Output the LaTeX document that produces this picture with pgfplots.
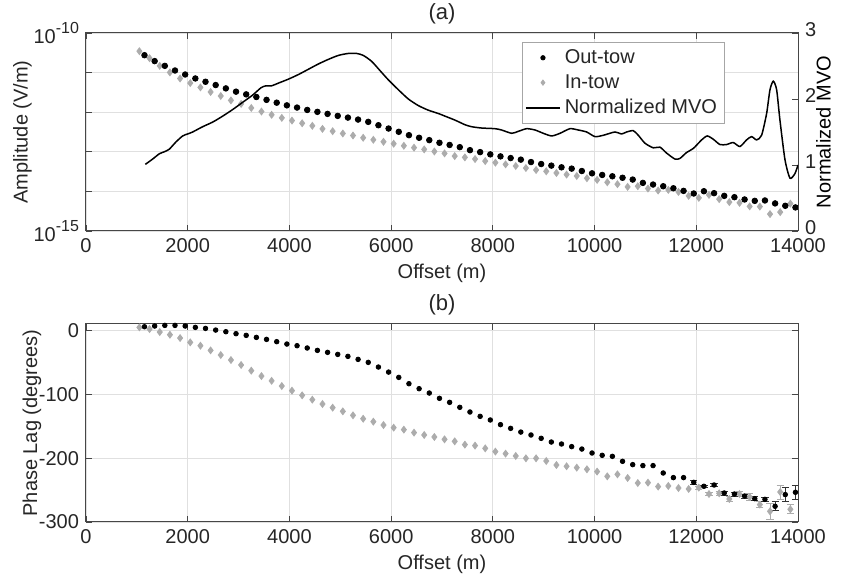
\documentclass[border=0pt]{standalone}
\usepackage{fontspec}
\setmainfont{Liberation Sans}
\usepackage{pgfplots}
\usepackage{pgfplotstable}
\pgfplotsset{compat=1.18}

\definecolor{intow}{RGB}{172,172,172}
\definecolor{axgray}{RGB}{70,70,70}
\definecolor{txt}{RGB}{38,38,38}

% ---------- data: amplitude (top) ----------
\pgfplotstableread{
x y
1150 2.75e-11
1350 1.95e-11
1550 1.48e-11
1750 1.13e-11
1950 8.95e-12
2150 7.11e-12
2350 5.87e-12
2550 4.85e-12
2750 3.99e-12
2950 3.30e-12
3150 2.82e-12
3350 2.42e-12
3550 2.05e-12
3750 1.74e-12
3950 1.49e-12
4150 1.31e-12
4350 1.14e-12
4550 1.02e-12
4750 9.06e-13
4950 8.07e-13
5150 7.31e-13
5350 6.52e-13
5550 5.70e-13
5750 4.69e-13
5950 3.87e-13
6150 3.20e-13
6350 2.63e-13
6550 2.26e-13
6750 1.97e-13
6950 1.69e-13
7150 1.49e-13
7350 1.31e-13
7550 1.10e-13
7750 9.82e-14
7950 8.61e-14
8150 7.66e-14
8350 6.95e-14
8550 6.34e-14
8750 5.51e-14
8950 4.91e-14
9150 4.48e-14
9350 4.06e-14
9550 3.76e-14
9750 3.27e-14
9950 2.86e-14
10150 2.60e-14
10350 2.41e-14
10550 2.21e-14
10750 1.99e-14
10950 1.64e-14
11150 1.49e-14
11350 1.35e-14
11550 1.20e-14
11750 1.03e-14
11950 8.85e-15
12150 1.01e-14
12350 9.02e-15
12550 7.71e-15
12750 7.14e-15
12950 6.25e-15
13150 5.77e-15
13350 5.90e-15
13550 4.97e-15
13750 4.33e-15
13950 3.94e-15
}\ampout

\pgfplotstableread{
x y
1050 3.47e-11
1250 2.31e-11
1450 1.48e-11
1650 1.01e-11
1850 7.11e-12
2050 5.44e-12
2250 4.23e-12
2450 3.24e-12
2650 2.57e-12
2850 1.99e-12
3050 1.62e-12
3250 1.28e-12
3450 1.04e-12
3650 8.61e-13
3850 7.19e-13
4050 6.15e-13
4250 5.26e-13
4450 4.53e-13
4650 3.80e-13
4850 3.31e-13
5050 2.90e-13
5250 2.58e-13
5450 2.26e-13
5650 2.01e-13
5850 1.79e-13
6050 1.60e-13
6250 1.42e-13
6450 1.27e-13
6650 1.15e-13
6850 1.02e-13
7050 9.12e-14
7250 7.80e-14
7450 7.23e-14
7650 6.56e-14
7850 5.83e-14
8050 5.32e-14
8250 4.82e-14
8450 4.38e-14
8650 3.89e-14
8850 3.47e-14
9050 3.22e-14
9250 2.92e-14
9450 2.66e-14
9650 2.45e-14
9850 2.15e-14
10050 1.95e-14
10250 1.70e-14
10450 1.52e-14
10650 1.30e-14
10850 1.35e-14
11050 1.18e-14
11250 1.05e-14
11450 1.09e-14
11650 9.70e-15
11850 7.71e-15
12050 6.87e-15
12250 8.17e-15
12450 6.37e-15
12650 5.36e-15
12850 5.14e-15
13050 4.18e-15
13250 4.13e-15
13450 2.67e-15
13650 3.00e-15
13850 4.91e-15
}\ampin

\pgfplotstableread{
x y
1167 1.01
1311 1.09
1442 1.17
1540 1.20
1638 1.24
1770 1.35
1901 1.44
1999 1.47
2097 1.50
2294 1.58
2491 1.65
2687 1.74
2884 1.84
3081 1.95
3278 2.06
3441 2.17
3539 2.20
3651 2.20
3782 2.24
3978 2.30
4175 2.37
4372 2.45
4568 2.53
4765 2.60
4962 2.66
5158 2.69
5322 2.69
5453 2.66
5617 2.57
5781 2.43
5945 2.29
6142 2.14
6338 2.00
6535 1.90
6732 1.83
6929 1.78
7059 1.74
7255 1.68
7452 1.61
7583 1.58
7780 1.56
8042 1.55
8173 1.53
8370 1.48
8501 1.51
8665 1.55
8829 1.53
8992 1.48
9156 1.44
9320 1.48
9516 1.55
9680 1.53
9844 1.50
10008 1.43
10171 1.45
10401 1.50
10530 1.47
10630 1.50
10761 1.52
10860 1.45
10991 1.33
11155 1.26
11286 1.27
11417 1.18
11581 1.09
11679 1.10
11810 1.19
11941 1.25
12105 1.38
12216 1.44
12334 1.39
12465 1.31
12596 1.31
12727 1.34
12858 1.28
12989 1.38
13088 1.43
13186 1.38
13284 1.45
13383 1.78
13449 2.14
13514 2.27
13580 2.14
13645 1.68
13744 1.08
13842 0.80
13940 0.87
14000 1.00
}\mvo

% ---------- data: phase (bottom) ----------
\pgfplotstableread{
x y
1150 5.7
1350 6.8
1550 7.8
1750 7.8
1950 6.8
2150 4.7
2350 3.1
2550 0.5
2750 -2.1
2950 -5.2
3150 -7.8
3350 -11.0
3550 -14.1
3750 -17.7
3950 -21.4
4150 -24.0
4350 -27.6
4550 -31.3
4750 -34.4
4950 -37.6
5150 -40.7
5350 -45.4
5550 -50.1
5750 -57.4
5950 -65.3
6150 -73.6
6350 -83.5
6550 -91.3
6750 -98.1
6950 -106.4
7150 -112.7
7350 -120.5
7550 -127.8
7750 -134.6
7950 -140.3
8150 -147.6
8350 -153.4
8550 -159.2
8750 -163.8
8950 -169.0
9150 -174.8
9350 -177.9
9550 -182.0
9750 -185.8
9950 -192.0
10150 -195.6
10350 -197.2
10550 -205.0
10750 -210.2
10950 -211.7
11150 -211.7
11350 -223.3
11550 -230.5
11750 -230.5
}\phout

\pgfplotstableread{
x y e
11950 -237.9 3
12150 -244.1 2
12350 -242.1 2
12550 -254.6 3
12750 -256.2 3
12950 -259.3 3
13150 -263.5 3
13350 -264.6 3
13550 -275.4 7
13750 -257.1 11
13950 -253.5 11
}\phoutE

\pgfplotstableread{
x y
1050 4.7
1250 2.1
1450 -2.6
1650 -6.8
1850 -12.0
2050 -18.8
2250 -24.0
2450 -31.3
2650 -38.6
2850 -46.4
3050 -54.2
3250 -63.1
3450 -71.5
3650 -79.0
3850 -87.1
4050 -94.4
4250 -101.7
4450 -108.5
4650 -115.3
4850 -121.0
5050 -126.8
5250 -133.0
5450 -138.3
5650 -142.9
5850 -148.2
6050 -152.3
6250 -155.4
6450 -160.1
6650 -163.8
6850 -166.9
7050 -170.6
7250 -173.7
7450 -178.9
7650 -180.4
7850 -184.7
8050 -189.8
8250 -193.0
8450 -196.6
8650 -200.3
8850 -200.3
9050 -204.5
9250 -210.8
9450 -212.8
9650 -214.9
9850 -217.5
10050 -221.1
10250 -228.5
10450 -225.4
10650 -231.1
10850 -239.0
11050 -238.4
11250 -244.6
11450 -243.6
11650 -246.8
11850 -248.3
}\phin

\pgfplotstableread{
x y e
12050 -246.2 2
12250 -256.2 2
12450 -255.1 3
12650 -264.0 4
12850 -256.2 4
13050 -260.9 5
13250 -272.8 5
13450 -283.3 12
13650 -253.0 11
13850 -280.1 7
}\phinE

\newcommand{\expo}[1]{10\raisebox{0.9ex}{\fontsize{8}{9}\selectfont #1}}

\pgfplotsset{
  base/.style={
    scale only axis, width=356pt, height=99pt,
    xmin=0, xmax=14000,
    xtick={0,2000,4000,6000,8000,10000,12000,14000},
    /pgf/number format/assume math mode=true,
    /pgf/number format/1000 sep={},
    scaled x ticks=false,
    tick label style={font=\fontsize{10}{12}\selectfont, text=txt},
    label style={font=\fontsize{10}{12}\selectfont, text=txt},
    title style={font=\fontsize{11}{13}\selectfont, text=txt, yshift=-5pt},
    axis line style={axgray, line width=0.5pt},
    tick style={axgray, line width=0.4pt},
    tick align=inside, major tick length=3pt,
    xlabel style={yshift=1pt},
  },
  gridded/.style={grid=major, major grid style={black!12, line width=0.4pt}},
}

\begin{document}
\begin{tikzpicture}
\useasboundingbox (-43pt,-175pt) rectangle (378pt,115.5pt);

% ===== panel (a), left axis =====
\begin{axis}[base, gridded, at={(0,0)}, anchor=south west,
  ymode=log, ymin=1e-15, ymax=1e-10,
  ytick={1e-15,1e-14,1e-13,1e-12,1e-11,1e-10},
  yticklabels={{\expo{-15}},{},{},{},{},{\expo{-10}}},
  yminorticks=false, ytick pos=left,
  xlabel={Offset (m)}, ylabel={Amplitude (V/m)}, title={(a)},
  ylabel style={yshift=-6pt},
  clip=true]
\addplot[only marks, mark=diamond*, mark size=1.7pt, color=intow] table {\ampin};
\addplot[only marks, mark=*, mark size=1.4pt, color=black] table {\ampout};
\end{axis}

% ===== panel (a), right axis =====
\begin{axis}[base, at={(0,0)}, anchor=south west,
  axis x line=none, axis y line*=right,
  ymin=0, ymax=3, ytick={0,1,2,3},
  yticklabel style={yshift=1.5pt},
  ylabel={Normalized MVO},
  every axis y label/.style={at={(axis description cs:1.022,0.5)}, rotate=90, anchor=north, inner sep=1pt},
  legend style={at={(0.612,0.955)}, anchor=north west, draw=gray!70,
    font=\fontsize{10}{12}\selectfont, text=txt, fill=white,
    inner sep=1.5pt, row sep=0pt, cells={anchor=west}},
  legend cell align=left]
\addlegendimage{only marks, mark=*, mark size=1.1pt, black}
\addlegendentry{Out-tow}
\addlegendimage{only marks, mark=diamond*, mark size=1.3pt, intow}
\addlegendentry{In-tow}
\addplot[black, line width=0.75pt, smooth, tension=0.4] table {\mvo};
\addlegendentry{Normalized MVO}
\end{axis}

% ===== panel (b) =====
\begin{axis}[base, gridded, at={(0,-145.5pt)}, anchor=south west,
  ymin=-300, ymax=10, ytick={-300,-200,-100,0},
  xlabel={Offset (m)}, ylabel={Phase Lag (degrees)}, title={(b)},
  ylabel style={yshift=-8pt}]
\addplot[only marks, mark=diamond*, mark size=1.7pt, color=intow] table {\phin};
\addplot[only marks, mark=diamond*, mark size=1.7pt, color=intow,
  error bars/.cd, y dir=both, y explicit,
  error bar style={line width=0.4pt, color=intow},
  error mark options={rotate=90, mark size=1.8pt, line width=0.4pt, color=intow}]
  table[y error=e] {\phinE};
\addplot[only marks, mark=*, mark size=1.15pt, color=black] table {\phout};
\addplot[only marks, mark=*, mark size=1.15pt, color=black,
  error bars/.cd, y dir=both, y explicit,
  error bar style={line width=0.4pt, color=black!80},
  error mark options={rotate=90, mark size=1.8pt, line width=0.4pt, color=black!80}]
  table[y error=e] {\phoutE};
\end{axis}
\end{tikzpicture}
\end{document}
